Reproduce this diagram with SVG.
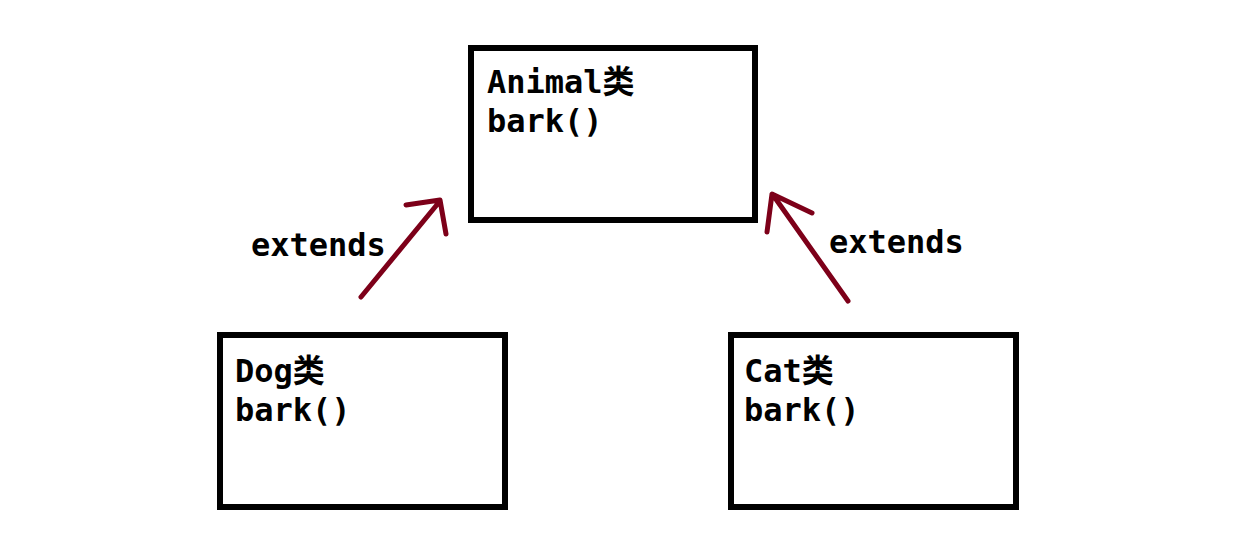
<svg xmlns="http://www.w3.org/2000/svg" width="1250" height="534" viewBox="0 0 1250 534">
<style>
.box{fill:#fff;stroke:#000;stroke-width:6}
.t{font-family:"DejaVu Sans Mono","Liberation Mono","Noto Sans CJK SC",monospace;font-weight:bold;font-size:32px;fill:#000}
.lbl{font-family:"DejaVu Sans Mono","Liberation Mono",monospace;font-weight:bold;font-size:32px;fill:#000}
.arr{fill:none;stroke:#7d0019;stroke-width:5;stroke-linecap:round;stroke-linejoin:round}
</style>
<rect width="1250" height="534" fill="#fff"/>
<g id="animal">
<rect class="box" x="471" y="48" width="284" height="172"/>
<text class="t" x="487" y="93">Animal<tspan font-family="'Noto Sans CJK SC',sans-serif">类</tspan></text>
<text class="t" x="487" y="132">bark()</text>
</g>
<g id="dog">
<rect class="box" x="220" y="335" width="285" height="172"/>
<text class="t" x="235" y="382">Dog<tspan font-family="'Noto Sans CJK SC',sans-serif">类</tspan></text>
<text class="t" x="235" y="421">bark()</text>
</g>
<g id="cat">
<rect class="box" x="731" y="335" width="285" height="172"/>
<text class="t" x="744" y="382">Cat<tspan font-family="'Noto Sans CJK SC',sans-serif">类</tspan></text>
<text class="t" x="744" y="421">bark()</text>
</g>
<g id="connectors">
<path class="arr" d="M361 297 L440 201 M406 205 L440 200 L446 234"/>
<text class="lbl" x="251" y="256">extends</text>
<path class="arr" d="M848 301 L773 195 M812 213 L772 194 L767 232"/>
<text class="lbl" x="829" y="253">extends</text>
</g>
</svg>
